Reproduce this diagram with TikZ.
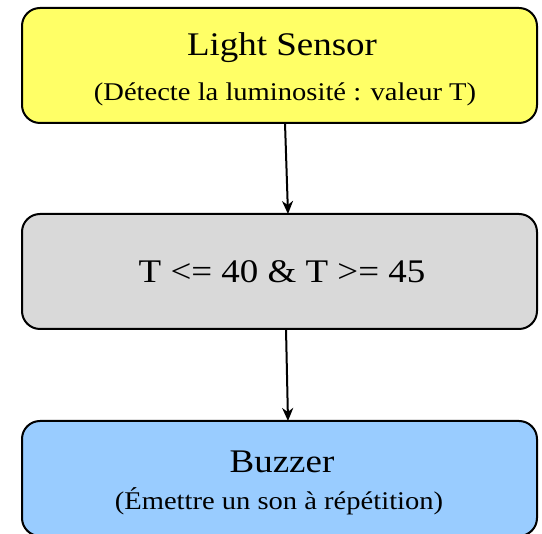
\documentclass[tikz,border=0pt]{standalone}
\usepackage{fontspec}
\setmainfont{Liberation Serif}[FakeStretch=1.12]
\usetikzlibrary{arrows.meta}
\definecolor{boxyellow}{RGB}{255,255,102}
\definecolor{boxgray}{RGB}{217,217,217}
\definecolor{boxblue}{RGB}{153,204,255}
\tikzset{
  box/.style={draw=black, line width=2pt, rounded corners=18pt, minimum width=515pt, minimum height=115pt, inner sep=0pt},
  big/.style={font=\fontsize{33}{38}\selectfont, inner sep=0pt},
  small/.style={font=\fontsize{25.5}{29}\selectfont, inner sep=0pt},
  conn/.style={line width=2pt, -{Stealth[length=13pt,width=11pt,inset=4pt]}}
}
\begin{document}
\begin{tikzpicture}[x=1pt,y=-1pt]
\useasboundingbox (0,0) rectangle (542,534);
\node[box, fill=boxyellow] (ls) at (279.5,65.5) {};
\node[box, fill=boxgray] (cond) at (279.5,271.5) {};
\node[box, fill=boxblue] (bz) at (279.5,478.5) {};
\node[big] (lst) at (282,48) {Light Sensor};
\node[small] (lss) at (285,94) {(Détecte la luminosité : valeur T)};
\node[big] (ct) at (282,272) {T <= 40 \& T >= 45};
\node[big] (bzt) at (282,462) {Buzzer};
\node[small] (bzs) at (279,501) {(Émettre un son à répétition)};
\coordinate (a1s) at (285,123);
\coordinate (a1e) at (288,214);
\coordinate (a2s) at (286,329);
\coordinate (a2e) at (288,421);
\draw[conn] (a1s) -- (a1e);
\draw[conn] (a2s) -- (a2e);
\end{tikzpicture}
\end{document}
